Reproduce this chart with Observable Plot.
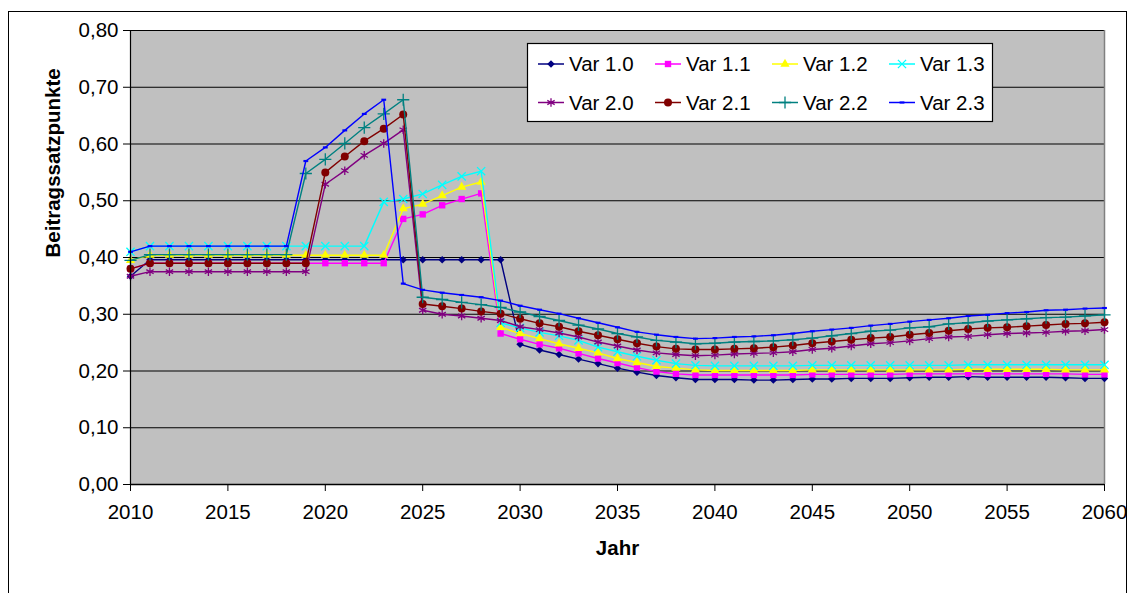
<!DOCTYPE html>
<html>
<head>
<meta charset="utf-8">
<script src="https://cdn.jsdelivr.net/npm/d3@7"></script>
<script src="https://cdn.jsdelivr.net/npm/@observablehq/plot@0.6"></script>
<style>
  html, body { margin: 0; padding: 0; background: #fff; overflow: hidden; }
  #chart { position: relative; width: 1129px; height: 593px; font-family: "Liberation Sans", Arial, sans-serif; }
  #chart > svg { position: absolute; left: 0; top: 0; }
  #outline { position: absolute; left: 8px; top: 11px; width: 1119px; height: 640px; border: 1px solid #000; box-sizing: border-box; pointer-events: none; }
</style>
</head>
<body>
<div id="chart"><div id="outline"></div></div>
<script>
// Jahre 2010–2060
const years = [2010,2011,2012,2013,2014,2015,2016,2017,2018,2019,2020,2021,2022,2023,2024,2025,2026,2027,2028,2029,2030,
  2031,2032,2033,2034,2035,2036,2037,2038,2039,2040,2041,2042,2043,2044,2045,2046,2047,2048,2049,2050,
  2051,2052,2053,2054,2055,2056,2057,2058,2059,2060];

const seriesNames = ["Var 1.0","Var 1.1","Var 1.2","Var 1.3","Var 2.0","Var 2.1","Var 2.2","Var 2.3"];

const var10 = [0.367,0.396,0.396,0.396,0.396,0.396,0.396,0.396,0.396,0.396,0.396,0.396,0.396,0.396,0.396,0.396,0.396,0.396,0.396,0.396,
  0.247,0.237,0.229,0.221,0.213,0.205,0.198,0.192,0.188,0.185,0.185,0.185,0.184,0.184,0.185,0.186,0.186,0.187,0.187,0.187,
  0.188,0.189,0.189,0.190,0.189,0.189,0.189,0.189,0.188,0.187,0.187];
const var11 = [0.380,0.390,0.390,0.390,0.390,0.390,0.390,0.390,0.390,0.390,0.390,0.390,0.390,0.390,0.468,0.476,0.492,0.503,0.513,0.266,
  0.256,0.247,0.240,0.231,0.222,0.214,0.206,0.199,0.195,0.193,0.193,0.193,0.193,0.193,0.193,0.194,0.194,0.194,0.194,0.194,
  0.195,0.195,0.195,0.195,0.195,0.195,0.195,0.195,0.195,0.194,0.194];
const var12 = [0.395,0.404,0.404,0.404,0.404,0.404,0.404,0.404,0.404,0.404,0.404,0.404,0.404,0.404,0.486,0.494,0.509,0.524,0.533,0.277,
  0.266,0.257,0.248,0.240,0.232,0.222,0.215,0.208,0.205,0.202,0.201,0.201,0.201,0.201,0.201,0.202,0.202,0.202,0.202,0.202,
  0.202,0.202,0.202,0.203,0.203,0.203,0.203,0.203,0.202,0.202,0.202];
const var13 = [0.410,0.420,0.420,0.420,0.420,0.420,0.420,0.420,0.420,0.420,0.420,0.420,0.420,0.498,0.503,0.512,0.528,0.543,0.552,0.285,
  0.276,0.268,0.262,0.254,0.242,0.234,0.226,0.219,0.213,0.210,0.209,0.209,0.209,0.209,0.209,0.210,0.210,0.210,0.210,0.210,
  0.210,0.210,0.210,0.211,0.211,0.211,0.211,0.211,0.211,0.211,0.211];
const var20 = [0.367,0.375,0.375,0.375,0.375,0.375,0.375,0.375,0.375,0.375,0.529,0.553,0.580,0.601,0.625,0.307,0.300,0.297,0.293,0.289,
  0.278,0.273,0.267,0.260,0.251,0.244,0.237,0.232,0.229,0.227,0.228,0.230,0.231,0.232,0.234,0.238,0.240,0.244,0.248,0.250,
  0.253,0.257,0.260,0.261,0.264,0.266,0.267,0.268,0.270,0.271,0.273];
const var21 = [0.380,0.390,0.390,0.390,0.390,0.390,0.390,0.390,0.390,0.390,0.550,0.578,0.605,0.627,0.652,0.318,0.314,0.310,0.305,0.301,
  0.292,0.284,0.278,0.270,0.263,0.256,0.249,0.243,0.239,0.238,0.238,0.239,0.240,0.242,0.245,0.249,0.252,0.255,0.258,0.260,
  0.264,0.267,0.271,0.274,0.276,0.277,0.279,0.281,0.283,0.284,0.286];
const var22 = [0.395,0.405,0.405,0.405,0.405,0.405,0.405,0.405,0.405,0.548,0.573,0.601,0.629,0.653,0.678,0.330,0.326,0.321,0.317,0.312,
  0.304,0.296,0.289,0.281,0.274,0.266,0.260,0.254,0.251,0.248,0.249,0.251,0.252,0.253,0.255,0.258,0.262,0.266,0.270,0.272,
  0.276,0.278,0.283,0.285,0.288,0.290,0.292,0.294,0.295,0.297,0.299];
const var23 = [0.410,0.420,0.420,0.420,0.420,0.420,0.420,0.420,0.420,0.570,0.594,0.624,0.653,0.678,0.354,0.343,0.338,0.334,0.330,0.324,
  0.315,0.308,0.301,0.293,0.285,0.277,0.269,0.264,0.260,0.257,0.258,0.260,0.261,0.263,0.266,0.270,0.273,0.276,0.280,0.283,
  0.287,0.290,0.293,0.297,0.299,0.302,0.304,0.307,0.308,0.310,0.311];

const seriesValues = [var10, var11, var12, var13, var20, var21, var22, var23];

const xTicks = [2010,2015,2020,2025,2030,2035,2040,2045,2050,2055,2060];
const yTicks = [0,0.1,0.2,0.3,0.4,0.5,0.6,0.7,0.8];

// Darstellung der Reihen
const seriesColors = ["#000080","#FF00FF","#FFFF00","#00FFFF","#800080","#800000","#008080","#0000FF"];
const dashSymbol = {
  draw(ctx, size) {
    const r = Math.sqrt(size / Math.PI);
    ctx.rect(-r, -r * 0.45, 2 * r, r * 0.9);
  }
};
const seriesSymbols = ["diamond2","square","triangle","times","asterisk","circle","plus",dashSymbol];
const symbolFilled = [true,true,true,false,false,true,false,true];
const symbolRadius = [3.4,3.6,3.4,3.8,4.0,4.0,4.0,2.4];

const fontSize = 20.5;
const fmt = d3.formatLocale({decimal: ",", thousands: ".", grouping: [3], currency: ["", "€"]}).format(".2f");

const rows = seriesNames.map((name, i) => years.map((year, j) => ({year, series: name, value: seriesValues[i][j]})));

const seriesMarks = rows.flatMap((data, i) => [
  Plot.line(data, {x: "year", y: "value", stroke: seriesColors[i], strokeWidth: 1.4}),
  Plot.dot(data, symbolFilled[i]
    ? {x: "year", y: "value", symbol: () => seriesSymbols[i], r: symbolRadius[i], fill: seriesColors[i], stroke: "none"}
    : {x: "year", y: "value", symbol: () => seriesSymbols[i], r: symbolRadius[i], fill: "none", stroke: seriesColors[i], strokeWidth: 1.3})
]);

const plot = Plot.plot({
  width: 1129,
  height: 593,
  marginLeft: 130,
  marginRight: 25,
  marginTop: 30,
  marginBottom: 109,
  style: {background: "transparent", fontFamily: "'Liberation Sans', Arial, sans-serif", fontSize: `${fontSize}px`, color: "#000"},
  x: {domain: [2010, 2060]},
  y: {domain: [0, 0.8]},
  symbol: {type: "identity"},
  marks: [
    Plot.frame({fill: "#C0C0C0", stroke: "none"}),
    Plot.ruleY(yTicks, {stroke: "#000", strokeWidth: 1}),
    Plot.ruleX([2060], {stroke: "#808080", strokeWidth: 1.5}),
    ...seriesMarks,
    Plot.ruleX([2010], {stroke: "#000", strokeWidth: 1.2}),
    Plot.ruleY([0], {stroke: "#000", strokeWidth: 1.5}),
    Plot.axisY({ticks: yTicks, tickFormat: fmt, tickSize: 7, tickPadding: 5, label: null}),
    Plot.axisX({ticks: xTicks, tickFormat: d => String(d), tickSize: 7, tickPadding: 13, label: null}),
    Plot.text(["Beitragssatzpunkte"], {text: d => d, frameAnchor: "left", dx: -77, rotate: -90, fontWeight: "bold", fontSize}),
    Plot.text(["Jahr"], {text: d => d, frameAnchor: "bottom", dy: 70, fontWeight: "bold", fontSize})
  ]
});
document.getElementById("chart").prepend(plot);

// Legende (zwei Zeilen, vier Spalten)
const legend = d3.select("#chart").append("svg")
  .attr("width", 470).attr("height", 82)
  .style("position", "absolute").style("left", "526px").style("top", "42px")
  .style("font-family", "'Liberation Sans', Arial, sans-serif").style("font-size", `${fontSize}px`);
legend.append("rect").attr("x", 1.5).attr("y", 1.5).attr("width", 465).attr("height", 78)
  .attr("fill", "#fff").attr("stroke", "#000").attr("stroke-width", 1.2);
seriesNames.forEach((name, i) => {
  const col = i % 4, row = Math.floor(i / 4);
  const g = legend.append("g").attr("transform", `translate(${12 + col * 117},${22 + row * 38.5})`);
  g.append("line").attr("x1", 0).attr("x2", 26).attr("y1", 0).attr("y2", 0)
    .attr("stroke", seriesColors[i]).attr("stroke-width", 1.5);
  const sym = typeof seriesSymbols[i] === "string"
    ? {diamond2: d3.symbolDiamond2, square: d3.symbolSquare, triangle: d3.symbolTriangle, times: d3.symbolTimes,
       asterisk: d3.symbolAsterisk, circle: d3.symbolCircle, plus: d3.symbolPlus}[seriesSymbols[i]]
    : seriesSymbols[i];
  const path = g.append("path").attr("transform", "translate(13,0)")
    .attr("d", d3.symbol(sym, Math.PI * symbolRadius[i] * symbolRadius[i])());
  if (symbolFilled[i]) path.attr("fill", seriesColors[i]);
  else path.attr("fill", "none").attr("stroke", seriesColors[i]).attr("stroke-width", 1.3);
  g.append("text").attr("x", 31).attr("y", 0).attr("dy", "0.35em").attr("fill", "#000").text(name);
});
</script>
</body>
</html>
